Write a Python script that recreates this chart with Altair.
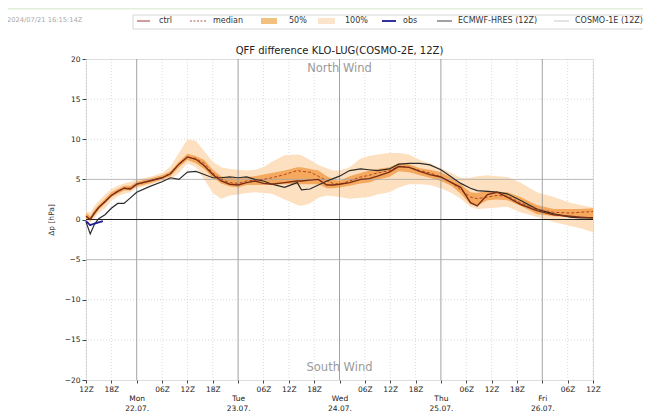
import altair as alt
import pandas as pd

F = "DejaVu Sans"

# ---- data (hours since 21.07. 12Z) ----
hours = [0, 1, 2, 3, 4.5, 6, 7.5, 9, 10.5, 12,
         15, 18, 20, 22, 24, 26, 28, 30, 32, 34,
         36, 38, 40, 42, 44, 47, 50, 51, 53, 55,
         57, 58.5, 60, 62.4, 65, 67, 69, 71.8, 74, 76.5,
         79, 81.4, 84, 86.5, 88.7, 91, 92.6, 95, 97.3, 99.7,
         102.8, 106.7, 110.7, 114.6, 117, 120]
ctrl = [0.4, 0.0, 0.8, 1.5, 2.2, 3.0, 3.5, 3.9, 3.8, 4.4,
        4.8, 5.2, 5.7, 6.9, 7.8, 7.5, 6.7, 5.6, 4.8, 4.4,
        4.3, 4.6, 4.8, 4.5, 4.4, 4.6, 4.8, 4.8, 4.9, 5.0,
        4.3, 4.3, 4.4, 4.6, 5.0, 5.1, 5.4, 5.9, 6.6, 6.5,
        6.0, 5.6, 5.3, 4.6, 4.0, 2.1, 1.7, 3.1, 3.4, 2.8,
        1.9, 1.1, 0.6, 0.4, 0.3, 0.2]
median = [0.4, 0.1, 0.9, 1.5, 2.3, 3.0, 3.5, 3.9, 3.9, 4.4,
          4.8, 5.2, 5.8, 6.9, 7.8, 7.6, 7.0, 5.8, 5.0, 4.6,
          4.5, 4.8, 4.9, 5.0, 5.2, 5.6, 6.1, 6.0, 5.9, 5.4,
          4.8, 4.5, 4.4, 4.8, 5.3, 5.5, 5.8, 6.1, 6.6, 6.5,
          6.1, 5.8, 5.3, 4.6, 3.7, 2.8, 2.6, 2.8, 3.0, 2.9,
          2.1, 1.3, 0.9, 0.8, 0.9, 1.0]
q25 = [0.1, -0.1, 0.5, 1.2, 2.0, 2.8, 3.2, 3.6, 3.6, 4.1,
       4.5, 5.0, 5.4, 6.5, 7.4, 7.0, 6.3, 5.2, 4.5, 4.1,
       4.0, 4.3, 4.3, 4.3, 4.4, 4.4, 4.4, 4.4, 4.4, 4.4,
       3.9, 3.9, 4.0, 4.2, 4.5, 4.6, 5.0, 5.3, 6.0, 5.9,
       5.5, 5.2, 4.8, 4.2, 3.2, 1.9, 1.7, 2.4, 2.5, 2.4,
       1.7, 0.7, 0.4, 0.3, 0.2, 0.1]
q75 = [0.8, 0.4, 1.2, 1.8, 2.6, 3.4, 3.8, 4.2, 4.2, 4.7,
       5.1, 5.5, 6.0, 7.2, 8.2, 7.9, 7.4, 6.2, 5.4, 5.2,
       5.1, 5.3, 5.4, 5.6, 5.8, 6.1, 6.5, 6.5, 6.3, 6.1,
       5.4, 5.0, 4.8, 5.4, 5.8, 6.1, 6.3, 6.5, 7.0, 6.9,
       6.4, 6.2, 5.9, 5.2, 4.4, 3.4, 3.3, 3.6, 3.5, 3.4,
       2.8, 1.8, 1.3, 1.3, 1.3, 1.4]
vmin = [-0.2, -0.4, 0.2, 0.8, 1.4, 2.3, 2.9, 3.2, 3.4, 3.9,
        4.3, 4.8, 5.0, 5.8, 7.0, 6.5, 5.0, 3.3, 2.6, 3.0,
        3.1, 3.3, 3.4, 3.3, 3.2, 2.5, 1.8, 1.7, 2.0, 2.7,
        3.0, 2.9, 2.8, 2.6, 2.7, 2.8, 3.1, 3.4, 4.0, 4.4,
        4.4, 4.3, 3.9, 3.3, 2.6, 1.6, 1.3, 1.4, 1.5, 1.6,
        0.9, 0.3, -0.3, -0.8, -1.1, -1.6]
vmax = [1.1, 0.8, 1.7, 2.3, 3.1, 3.8, 4.2, 4.5, 4.7, 5.0,
        5.3, 5.8, 6.6, 8.3, 10.0, 9.8, 8.5, 7.2, 6.5, 6.3,
        6.2, 6.1, 6.2, 6.5, 7.2, 8.0, 8.1, 8.0, 7.4, 6.8,
        6.4, 6.1, 6.1, 6.5, 7.6, 7.9, 8.1, 8.3, 8.3, 8.1,
        7.4, 7.0, 6.4, 5.8, 5.2, 5.2, 5.4, 5.5, 5.4, 5.3,
        4.6, 3.4, 2.8, 2.1, 1.8, 1.5]
ecmwf = [-0.3, -1.8, -0.6, 0.1, 0.6, 1.4, 2.0, 2.0, 2.7, 3.4,
         4.1, 4.7, 5.2, 5.0, 5.9, 6.0, 5.6, 5.2, 5.2, 5.3,
         5.2, 5.3, 5.0, 4.8, 4.4, 4.0, 4.6, 3.7, 3.8, 4.3,
         4.8, 5.1, 5.4, 6.1, 6.3, 6.2, 6.1, 6.3, 6.9, 7.0,
         7.0, 6.8, 6.2, 5.3, 4.5, 3.9, 3.6, 3.5, 3.4, 3.2,
         2.4, 1.3, 0.7, 0.3, 0.2, 0.2]
obs_hours = [0, 1, 2, 3, 4]
obs = [-0.2, -0.7, -0.5, -0.35, -0.2]

tick_hours = list(range(0, 121, 6))
day_hours = [12, 36, 60, 84, 108]
day_names = ["Mon", "Tue", "Wed", "Thu", "Fri"]
day_dates = ["22.07.", "23.07.", "24.07.", "25.07.", "26.07."]
y_ticks = [-20, -15, -10, -5, 0, 5, 10, 15, 20]
dotted_y = [-15, -10, 10, 15]
solid_y = [-5, 5]

title_text = "QFF difference KLO-LUG(COSMO-2E, 12Z)"
stamp_text = "2024/07/21 16:15:14Z"
legend_labels = ["ctrl", "median", "50%", "100%", "obs", "ECMWF-HRES (12Z)", "COSMO-1E (12Z)"]

df = pd.DataFrame(dict(h=hours, ctrl=ctrl, median=median, q25=q25, q75=q75,
                       mn=vmin, mx=vmax, ec=ecmwf))
dfo = pd.DataFrame(dict(h=obs_hours, v=obs))
one = pd.DataFrame({"k": [0]})

xs = alt.Scale(domain=[0, 120], nice=False, zero=False)
ys = alt.Scale(domain=[-20, 20], nice=False, zero=False)

names_js = "[" + ",".join(f"'{n}'" for n in day_names) + "]"
dates_js = "[" + ",".join(f"'{d}'" for d in day_dates) + "]"
label_expr = (f"(datum.value+12)%24==0 ? [' ', {names_js}[(datum.value-12)/24], "
              f"{dates_js}[(datum.value-12)/24]] : "
              "((((datum.value+12)%24)<10) ? '0' : '') + ((datum.value+12)%24) + 'Z'")

xaxis = alt.Axis(values=tick_hours, labelExpr=label_expr, grid=False, title=None,
                 labelFont=F, labelFontSize=7.5, labelColor="#222", labelFlush=False,
                 labelOverlap=False, labelBaseline="top", labelLineHeight=9.5,
                 labelPadding=2, tickSize=3, tickColor="#444", domain=False)
yaxis = alt.Axis(values=y_ticks, grid=False, title="Δp [hPa]", titleFont=F,
                 titleFontSize=7.5, titleFontWeight="normal", titleColor="#333",
                 titlePadding=9, labelFont=F, labelFontSize=7.5, labelColor="#222",
                 labelPadding=2, tickSize=4, tickColor="#444", domain=False,
                 labelOverlap=False)


def X(field="h"):
    return alt.X(f"{field}:Q", scale=xs, axis=xaxis)


def Y(field):
    return alt.Y(f"{field}:Q", scale=ys, axis=yaxis)


base = alt.Chart(df)

vgrid = alt.Chart(pd.DataFrame({"h": [t for t in tick_hours if t not in day_hours]})).mark_rule(
    color="#cfcfcf", strokeWidth=0.8, strokeDash=[1, 2]).encode(x=X())
hgrid = alt.Chart(pd.DataFrame({"v": dotted_y})).mark_rule(
    color="#cfcfcf", strokeWidth=0.8, strokeDash=[1, 2]).encode(y=Y("v"))

band100 = base.mark_area(color="#fde0c0").encode(x=X(), y=Y("mn"), y2="mx:Q")
band50 = base.mark_area(color="#f4a95f").encode(x=X(), y=Y("q25"), y2="q75:Q")

dayrules = alt.Chart(pd.DataFrame({"h": day_hours})).mark_rule(
    color="#8a8a8a", strokeWidth=0.8).encode(x=X())
hsolid = alt.Chart(pd.DataFrame({"v": solid_y})).mark_rule(
    color="#a8a8a8", strokeWidth=0.8).encode(y=Y("v"))
zero = alt.Chart(pd.DataFrame({"v": [0]})).mark_rule(
    color="#222", strokeWidth=1).encode(y=Y("v"))

ec_line = base.mark_line(color="#2b2b2b", strokeWidth=1.2).encode(x=X(), y=Y("ec"))
med_line = base.mark_line(color="#b5451f", strokeWidth=1, strokeDash=[3, 2]).encode(
    x=X(), y=Y("median"))
ctrl_line = base.mark_line(color="#7a2c14", strokeWidth=1.4).encode(x=X(), y=Y("ctrl"))
obs_line = alt.Chart(dfo).mark_line(color="#1c1c96", strokeWidth=1.8).encode(x=X(), y=Y("v"))

wind = alt.Chart(pd.DataFrame({"h": [60, 60], "v": [18.75, -18.45],
                               "t": ["North Wind", "South Wind"]})).mark_text(
    font=F, fontSize=11.5, color="#9a9a9a", baseline="middle", align="center").encode(
    x=X(), y=Y("v"), text="t:N")

# ---- decorations outside the plot (title, legend box, timestamp) ----
LY = -38
deco = []
deco.append(alt.Chart(one).mark_rect(fill="#e2efd9").encode(
    x=alt.value(-78), x2=alt.value(560), y=alt.value(-51), y2=alt.value(-49.5)))
deco.append(alt.Chart(one).mark_text(font=F, fontSize=10, color="#222", align="center",
                                     baseline="middle").encode(
    x=alt.value(253.5), y=alt.value(-8.5), text=alt.value(title_text)))
deco.append(alt.Chart(one).mark_text(font=F, fontSize=6.7, color="#a8a8a8", align="left",
                                     baseline="middle").encode(
    x=alt.value(-79), y=alt.value(-39), text=alt.value(stamp_text)))
deco.append(alt.Chart(one).mark_rect(fill="white", stroke="#cccccc", strokeWidth=0.8).encode(
    x=alt.value(47), x2=alt.value(565), y=alt.value(-44), y2=alt.value(-30)))


def lline(x1, x2, color, width, dash=None):
    kw = dict(color=color, strokeWidth=width)
    if dash:
        kw["strokeDash"] = dash
    return alt.Chart(one).mark_rule(**kw).encode(
        x=alt.value(x1), x2=alt.value(x2), y=alt.value(LY))


def lpatch(x1, x2, color):
    return alt.Chart(one).mark_rect(fill=color).encode(
        x=alt.value(x1), x2=alt.value(x2), y=alt.value(LY - 3), y2=alt.value(LY + 3))


def ltext(x, label):
    return alt.Chart(one).mark_text(font=F, fontSize=8, color="#333", align="left",
                                    baseline="middle").encode(
        x=alt.value(x), y=alt.value(LY), text=alt.value(label))


deco += [
    lline(51, 64, "#b36a66", 1.3), ltext(73, legend_labels[0]),
    lline(104, 120, "#b05a50", 1, [2, 1.5]), ltext(127, legend_labels[1]),
    lpatch(175, 191, "#f2c17f"), ltext(203, legend_labels[2]),
    lpatch(232, 249, "#fbe4cb"), ltext(259, legend_labels[3]),
    lline(296, 310, "#1c1c96", 1.8), ltext(317, legend_labels[4]),
    lline(351, 366, "#444444", 1), ltext(372, legend_labels[5]),
    lline(468, 483, "#bbbbbb", 0.8), ltext(489, legend_labels[6]),
]

chart = alt.layer(
    vgrid, hgrid, band100, band50, dayrules, hsolid, zero,
    ec_line, med_line, ctrl_line, obs_line, wind, *deco
).properties(
    width=507, height=321,
    autosize=alt.AutoSizeParams(type="none"),
    padding={"left": 78, "top": 51, "right": 50, "bottom": 31},
).configure_view(stroke="#555", strokeWidth=1).configure_axis(
    labelOverlap=False).configure(background="white")

chart.save("out.html", embed_options={"renderer": "svg", "actions": False})
